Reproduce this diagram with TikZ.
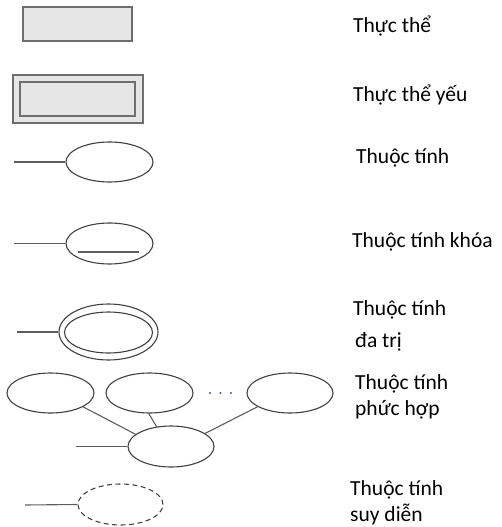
\documentclass[tikz,border=0pt]{standalone}
\usepackage{fontspec}
\setmainfont{Carlito}
\usetikzlibrary{shapes.geometric}
\definecolor{entfill}{HTML}{E6E6E6}
\definecolor{entline}{HTML}{6E6E6E}
\definecolor{attline}{HTML}{404040}
\definecolor{dotcol}{HTML}{4A5A7A}
\begin{document}
\begin{tikzpicture}[x=1pt,y=-1pt,
  ent/.style={draw=entline,fill=entfill,line width=1.4pt},
  att/.style={draw=attline,line width=1.1pt,ellipse,inner sep=0pt},
  link/.style={draw=attline!85,line width=1.1pt},
  lbl/.style={anchor=base west,inner sep=0pt,text=black,font=\fontsize{21.5}{26}\selectfont}]
\useasboundingbox (0,0) rectangle (501,527);

% entity
\node[ent,minimum width=109pt,minimum height=34pt,inner sep=0pt] (entity) at (77.5,24) {};
% weak entity: outer and inner frame
\node[ent,minimum width=130pt,minimum height=48pt,inner sep=0pt] (weak) at (78,99) {};
\node[ent,minimum width=115pt,minimum height=34pt,inner sep=0pt] (weakin) at (77.5,99) {};

% attribute
\node[att,minimum width=87pt,minimum height=40pt] (attr) at (109.5,162) {};
\coordinate (attrL) at (14,162);
\draw[link] (attrL) -- (attr.west);

% key attribute
\node[att,minimum width=87pt,minimum height=41pt] (key) at (109.5,243.5) {};
\coordinate (keyL) at (14,243.5);
\draw[link] (keyL) -- (key.west);
\coordinate (ulA) at (78,252);
\coordinate (ulB) at (139,252);
\draw[link] (ulA) -- (ulB);

% multivalued attribute
\node[att,minimum width=99pt,minimum height=56pt] (multi) at (108.5,332) {};
\node[att,minimum width=88pt,minimum height=41pt] (multiin) at (108.5,332.5) {};
\coordinate (multiL) at (17,332);
\draw[link] (multiL) -- (multi.west);

% composite attribute
\node[att,minimum width=87pt,minimum height=40pt] (part1) at (50.5,393) {};
\node[att,minimum width=87pt,minimum height=40pt] (part2) at (149.5,393) {};
\node[att,minimum width=86pt,minimum height=40pt] (part3) at (290,393) {};
\node[att,minimum width=86pt,minimum height=41pt] (comp) at (171,446.5) {};
\coordinate (compL) at (76,446.5);
\draw[link] (compL) -- (comp.west);
\draw[link] (part1.-23) -- (comp.161);
\draw[link] (part2.-92) -- (comp.126);
\draw[link] (part3.203) -- (comp.21);
\foreach \i/\x in {1/210,2/220.5,3/231}
  \fill[dotcol] (\x,393) circle (1.1pt) coordinate (dot\i);

% derived attribute
\node[att,dashed,dash pattern=on 5pt off 3.5pt,minimum width=85pt,minimum height=41pt] (derived) at (120.5,504.5) {};
\coordinate (derivedL) at (25,505);
\draw[link] (derivedL) -- (derived.west);

% labels
\node[lbl] (t1) at (353,33) {Thực thể};
\node[lbl] (t2) at (353,101) {Thực thể yếu};
\node[lbl] (t3) at (356,163) {Thuộc tính};
\node[lbl] (t4) at (352,247) {Thuộc tính khóa};
\node[lbl] (t5) at (353,315) {Thuộc tính};
\node[lbl] (t5b) at (355,347) {đa trị};
\node[lbl] (t6) at (355,389) {Thuộc tính};
\node[lbl] (t6b) at (355,415) {phức hợp};
\node[lbl] (t7) at (350,495) {Thuộc tính};
\node[lbl] (t7b) at (350,521.5) {suy diễn};
\end{tikzpicture}
\end{document}
